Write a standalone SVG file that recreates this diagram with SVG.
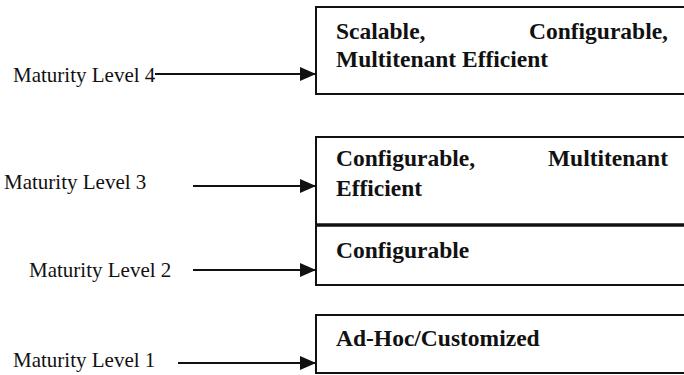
<svg xmlns="http://www.w3.org/2000/svg" width="684" height="375" viewBox="0 0 684 375">
<defs>
<style>
.lbl{font-family:'Liberation Serif','Tinos','DejaVu Serif',serif;font-size:21px;fill:#111}
.bx{font-family:'Liberation Serif','Tinos','DejaVu Serif',serif;font-size:23.5px;font-weight:bold;fill:#111}
.box{fill:#fff;stroke:#111;stroke-width:2}
.con{stroke:#111;stroke-width:2.2;fill:none;marker-end:url(#ah)}
</style>
<marker id="ah" markerUnits="userSpaceOnUse" markerWidth="16" markerHeight="14" refX="16" refY="7" orient="auto">
<path d="M0,0 L16,7 L0,14 Z" fill="#111"/>
</marker>
</defs>
<rect width="684" height="375" fill="#fff"/>
<g id="level4">
<rect class="box" x="316" y="7" width="380" height="87"/>
<text class="bx" x="336" y="39">Scalable,</text>
<text class="bx" x="668" y="39" text-anchor="end">Configurable,</text>
<text class="bx" x="336" y="67">Multitenant Efficient</text>
</g>
<g id="level3">
<rect class="box" x="316" y="137" width="380" height="88"/>
<text class="bx" x="336" y="166">Configurable,</text>
<text class="bx" x="668" y="166" text-anchor="end">Multitenant</text>
<text class="bx" x="336" y="196">Efficient</text>
</g>
<g id="level2">
<rect class="box" x="316" y="225" width="380" height="60"/>
<line x1="316" y1="225" x2="684" y2="225" stroke="#111" stroke-width="3.5"/>
<text class="bx" x="336" y="258">Configurable</text>
</g>
<g id="level1">
<rect class="box" x="316" y="315" width="380" height="58"/>
<text class="bx" x="336" y="346">Ad-Hoc/Customized</text>
</g>
<g id="labels">
<text class="lbl" x="13" y="82">Maturity Level 4</text>
<text class="lbl" x="4" y="189">Maturity Level 3</text>
<text class="lbl" x="29" y="277">Maturity Level 2</text>
<text class="lbl" x="13" y="367">Maturity Level 1</text>
</g>
<g id="connectors">
<line class="con" x1="155" y1="74" x2="316" y2="74"/>
<line class="con" x1="193" y1="186" x2="316" y2="186"/>
<line class="con" x1="193" y1="270" x2="316" y2="270"/>
<line class="con" x1="178" y1="363" x2="316" y2="363"/>
</g>
</svg>
